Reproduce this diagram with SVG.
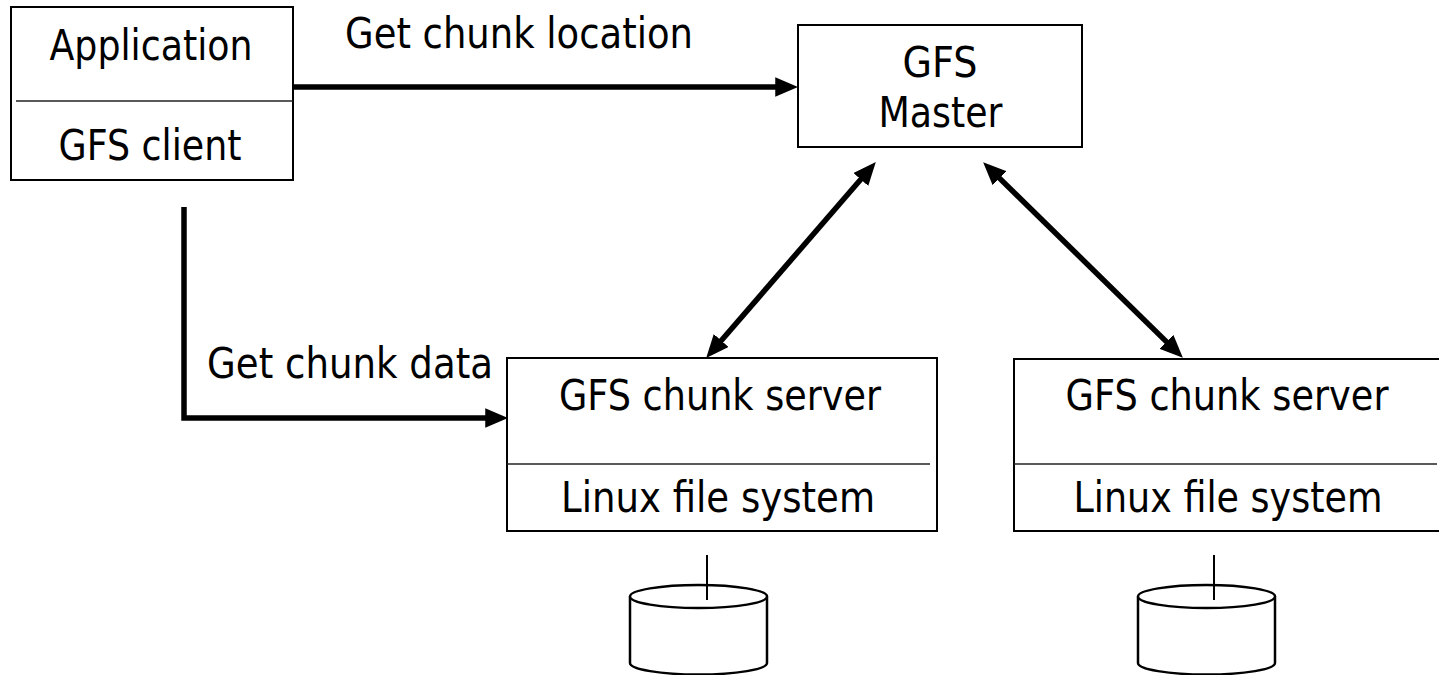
<svg xmlns="http://www.w3.org/2000/svg" width="1439" height="675" viewBox="0 0 1439 675">
<defs>
<style>
.box{fill:#fff;stroke:#000;stroke-width:2}
.div{stroke:#222;stroke-width:1.5;fill:none}
.t{font-family:"DejaVu Sans","Verdana",sans-serif;font-size:42px;fill:#000;text-anchor:middle}
.tl{font-family:"DejaVu Sans","Verdana",sans-serif;font-size:42px;fill:#000}
.conn{stroke:#000;stroke-width:5.5;fill:none;stroke-linejoin:miter}
.cyl{fill:#fff;stroke:#000;stroke-width:2.5}
.ln{stroke:#000;stroke-width:2}
</style>
<marker id="ah" markerUnits="userSpaceOnUse" markerWidth="23" markerHeight="20" viewBox="0 0 21 18" refX="8" refY="9" orient="auto-start-reverse">
<path d="M0,0 L21,9 L0,18 z" fill="#000"/>
</marker>
</defs>
<rect width="1439" height="675" fill="#fff"/>

<g id="connectors">
<line class="conn" x1="293" y1="87" x2="784" y2="87" marker-end="url(#ah)"/>
<path class="conn" d="M184,207 L184,418 L494,418" marker-end="url(#ah)"/>
<line class="conn" x1="715.5" y1="347.2" x2="866.5" y2="172.8" marker-start="url(#ah)" marker-end="url(#ah)"/>
<line class="conn" x1="993.3" y1="172.1" x2="1172.7" y2="347.9" marker-start="url(#ah)" marker-end="url(#ah)"/>
<text class="tl" x="345" y="48" textLength="348" lengthAdjust="spacingAndGlyphs">Get chunk location</text>
<text class="tl" x="207" y="378" textLength="286" lengthAdjust="spacingAndGlyphs">Get chunk data</text>
</g>

<g id="client">
<rect class="box" x="11" y="7" width="282" height="173"/>
<line class="div" x1="16" y1="101" x2="293" y2="101"/>
<text class="t" x="151" y="60" textLength="203" lengthAdjust="spacingAndGlyphs">Application</text>
<text class="t" x="150" y="160" textLength="183" lengthAdjust="spacingAndGlyphs">GFS client</text>
</g>

<g id="master">
<rect class="box" x="798" y="25" width="284" height="122"/>
<text class="t" x="940" y="77" textLength="75" lengthAdjust="spacingAndGlyphs">GFS</text>
<text class="t" x="940.5" y="127" textLength="124" lengthAdjust="spacingAndGlyphs">Master</text>
</g>

<g id="chunkserver1">
<rect class="box" x="507" y="358" width="430" height="173"/>
<line class="div" x1="507" y1="464" x2="930" y2="464"/>
<text class="t" x="720" y="410" textLength="322" lengthAdjust="spacingAndGlyphs">GFS chunk server</text>
<text class="t" x="718" y="512" textLength="314" lengthAdjust="spacingAndGlyphs">Linux file system</text>
</g>

<g id="chunkserver2">
<rect class="box" x="1014" y="359" width="430" height="172"/>
<line class="div" x1="1014" y1="464" x2="1437" y2="464"/>
<text class="t" x="1227" y="410" textLength="323" lengthAdjust="spacingAndGlyphs">GFS chunk server</text>
<text class="t" x="1228" y="512" textLength="309" lengthAdjust="spacingAndGlyphs">Linux file system</text>
</g>

<g id="disk1">
<path class="cyl" d="M630,596.5 L630,663 A68.5,11.5 0 0 0 767,663 L767,596.5"/>
<ellipse class="cyl" cx="698.5" cy="596.5" rx="68.5" ry="11.5"/>
<line class="ln" x1="707" y1="555" x2="707" y2="600"/>
</g>

<g id="disk2">
<path class="cyl" d="M1138,596.5 L1138,663 A68.5,11.5 0 0 0 1275,663 L1275,596.5"/>
<ellipse class="cyl" cx="1206.5" cy="596.5" rx="68.5" ry="11.5"/>
<line class="ln" x1="1214" y1="555" x2="1214" y2="600"/>
</g>
</svg>
